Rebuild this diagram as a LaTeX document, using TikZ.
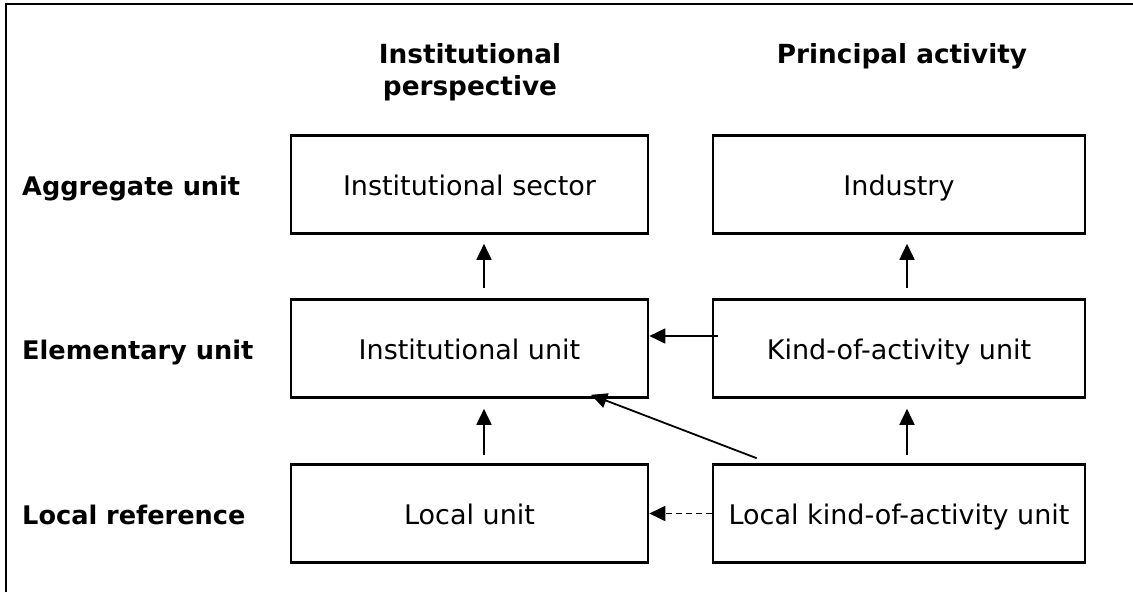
\documentclass[tikz,border=0pt]{standalone}
\usepackage{fontspec}
\setmainfont{DejaVu Sans}
\usetikzlibrary{arrows.meta}
\begin{document}
\begin{tikzpicture}[x=1pt,y=-1pt,
  unitbox/.style={draw, line width=2.6pt, inner sep=0pt, text height=21pt, text depth=0pt,
    font=\fontsize{27}{32}\selectfont},
  leftbox/.style={unitbox, minimum width=357pt, minimum height=98pt},
  rightbox/.style={unitbox, minimum width=372pt, minimum height=98pt},
  rowlabel/.style={anchor=base west, inner sep=0pt, font=\fontsize{25.6}{32}\selectfont\bfseries},
  colhead/.style={anchor=north, inner sep=0pt, align=center, font=\fontsize{26.3}{32}\selectfont\bfseries},
  link/.style={line width=1.8pt, -{Triangle[length=16pt,width=15pt]}},
]
\useasboundingbox (0,0) rectangle (1133,592);
% open frame: top and left edges only
\draw[line width=2.6pt] (6,592) -- (6,4) -- (1133,4);

% column headings
\node[colhead] (hinst) at (470,43.2) {Institutional\\perspective};
\node[colhead] (hprin) at (902,43.2) {Principal activity};

% row labels
\node[rowlabel] (ragg) at (22,195) {Aggregate unit};
\node[rowlabel] (relem) at (22,359) {Elementary unit};
\node[rowlabel] (rloc) at (22,524) {Local reference};

% unit boxes
\node[leftbox] (isec) at (469.5,184.5) {Institutional sector};
\node[leftbox] (iunit) at (469.5,348.5) {Institutional unit};
\node[leftbox] (lunit) at (469.5,513.5) {Local unit};
\node[rightbox] (ind) at (899,184.5) {Industry};
\node[rightbox] (kau) at (899,348.5) {Kind-of-activity unit};
\node[rightbox] (lkau) at (899,513.5) {Local kind-of-activity unit};

% upward links
\draw[link] ([xshift=14.5pt,yshift=10pt]iunit.north) -- ([xshift=14.5pt,yshift=-9pt]isec.south);
\draw[link] ([xshift=14.5pt,yshift=8pt]lunit.north) -- ([xshift=14.5pt,yshift=-10pt]iunit.south);
\draw[link] ([xshift=8pt,yshift=10pt]kau.north) -- ([xshift=8pt,yshift=-9pt]ind.south);
\draw[link] ([xshift=8pt,yshift=8pt]lkau.north) -- ([xshift=8pt,yshift=-10pt]kau.south);

% cross links
\draw[link] ([xshift=6pt,yshift=12.5pt]kau.west) -- ([yshift=12.5pt]iunit.east);
\draw[link] ([xshift=45pt,yshift=5pt]lkau.north west) -- ([xshift=121.5pt,yshift=4pt]iunit.south);
\draw[link, dash pattern=on 6pt off 4pt] (lkau.west) -- (lunit.east);
\end{tikzpicture}
\end{document}
